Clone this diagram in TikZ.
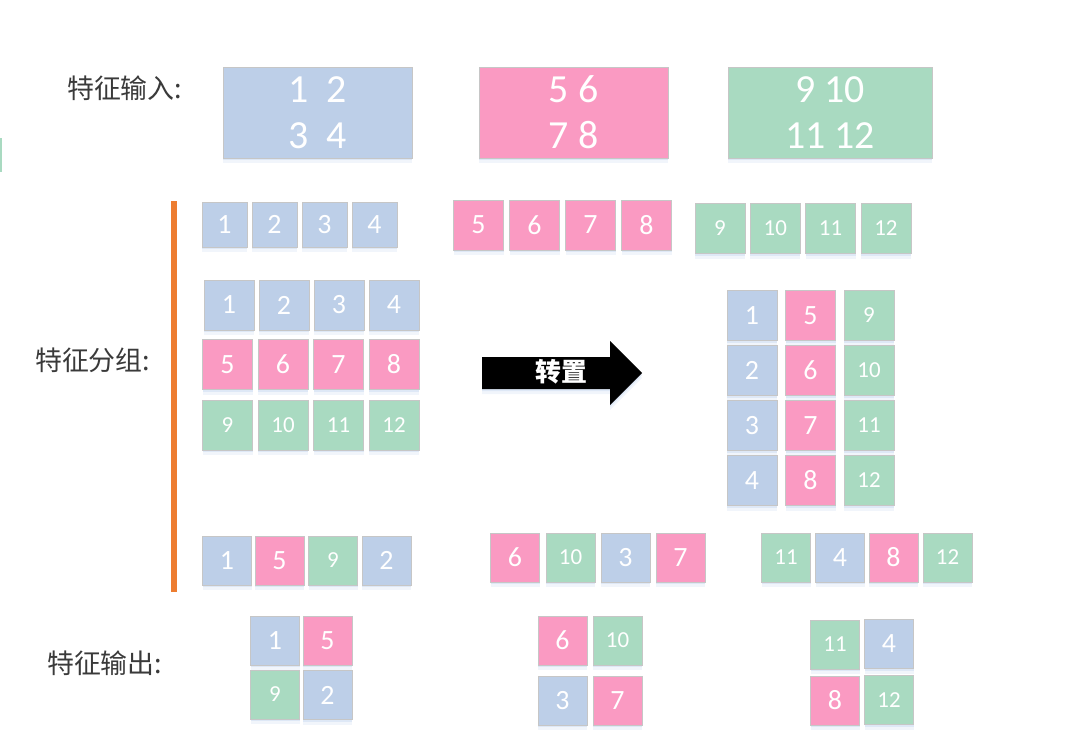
\documentclass[tikz,border=0pt]{standalone}
\usepackage{fontspec}
\setmainfont{Carlito}
\newfontfamily\cjk{Noto Sans CJK SC}
\usetikzlibrary{shadows}

\definecolor{cblue}{HTML}{BDCFE8}
\definecolor{cpink}{HTML}{FA9AC2}
\definecolor{cgreen}{HTML}{A9DAC1}
\definecolor{edge}{HTML}{C6C6C6}
\definecolor{bar}{HTML}{ED7D31}
\definecolor{shade}{HTML}{D6E2F4}
\definecolor{ink}{HTML}{3A3A3A}

\begin{document}
\begin{tikzpicture}[x=1bp, y=-1bp,
    soft/.style={general shadow={fill=shade, shadow yshift=-2bp, opacity=0.7},
                 general shadow={fill=shade, shadow yshift=-5bp, opacity=0.35}},
    cell/.style={soft, draw=edge, line width=0.8bp, text=white, inner sep=0pt,
                 minimum width=49bp, minimum height=49bp,
                 font=\fontsize{28}{30}\selectfont},
    bcell/.style={cell, fill=cblue},
    pcell/.style={cell, fill=cpink},
    gcell/.style={cell, fill=cgreen, font=\fontsize{23}{26}\selectfont},
    bigbox/.style={soft, draw=edge, line width=0.8bp, text=white, align=center,
                   minimum height=91bp, font=\fontsize{40}{46}\selectfont},
    label/.style={anchor=west, text=ink, inner sep=0pt, font=\cjk\fontsize{27}{30}\selectfont}]
      \useasboundingbox (0,0) rectangle (1078,754);
      \fill[cgreen] (0,138) rectangle (2,172);

      % input
      \node[label] (lin) at (67,88) {特征输入:};
      \node[bigbox, fill=cblue, minimum width=189bp] (inA) at (317.5,112.5) {1\ \ 2\\3\ \ 4};
      \node[bigbox, fill=cpink, minimum width=189bp] (inB) at (573.5,112.5) {5 6\\7 8};
      \node[bigbox, fill=cgreen, minimum width=204bp] (inC) at (830,112.5) {9 10\\11 12};

      % grouping
      \node[label] (lgrp) at (35,360) {特征分组:};
      \fill[bar] (171,201) rectangle (177,592);
      \foreach \n [count=\i] in {1,2,3,4}
        \node[bcell, minimum width=45bp, minimum height=45bp] (ra\n) at ({224.5+50*(\i-1)},224.5) {\n};
      \foreach \n [count=\i] in {5,6,7,8}
        \node[pcell, minimum width=50bp, minimum height=50bp] (ra\n) at ({478.5+56*(\i-1)},225) {\n};
      \foreach \n [count=\i] in {9,10,11,12}
        \node[gcell, minimum width=50bp, minimum height=50bp] (ra\n) at ({720+55.3*(\i-1)},228.5) {\n};

      \foreach \n [count=\i] in {1,2,3,4}
        \node[bcell, minimum width=50bp, minimum height=50bp] (g\n) at ({229+55*(\i-1)},305) {\n};
      \foreach \n [count=\i] in {5,6,7,8}
        \node[pcell, minimum width=50bp, minimum height=50bp] (g\n) at ({227.5+55.5*(\i-1)},364.5) {\n};
      \foreach \n [count=\i] in {9,10,11,12}
        \node[gcell, minimum width=50bp, minimum height=50bp] (g\n) at ({227.5+55.5*(\i-1)},425) {\n};

      % transpose
      \fill[black, soft] (482,357) -- (610,357) -- (610,341) -- (642,373)
          -- (610,405) -- (610,389) -- (482,389) -- cycle;
      \node[text=white, font=\cjk\bfseries\fontsize{26}{28}\selectfont] (turn) at (561.5,372) {转置};
      \foreach \n [count=\j] in {1,2,3,4}
        \node[bcell, minimum width=50bp, minimum height=50bp] (t\n) at (752,{315.5+55*(\j-1)}) {\n};
      \foreach \n [count=\j] in {5,6,7,8}
        \node[pcell, minimum width=50bp, minimum height=50bp] (t\n) at (810.5,{315.5+55*(\j-1)}) {\n};
      \foreach \n [count=\j] in {9,10,11,12}
        \node[gcell, minimum width=50bp, minimum height=50bp] (t\n) at (869,{315.5+55*(\j-1)}) {\n};

      % shuffled rows
      \node[bcell] (sa1) at (227,560.5) {1};
      \node[pcell] (sa2) at (279.5,560.5) {5};
      \node[gcell] (sa3) at (333,560.5) {9};
      \node[bcell] (sa4) at (386.5,560.5) {2};

      \node[pcell] (sb1) at (515,557.5) {6};
      \node[gcell] (sb2) at (570.5,557.5) {10};
      \node[bcell] (sb3) at (625.5,557.5) {3};
      \node[pcell] (sb4) at (680.5,557.5) {7};

      \node[gcell] (sc1) at (786,557.5) {11};
      \node[bcell] (sc2) at (840,557.5) {4};
      \node[pcell] (sc3) at (893.5,557.5) {8};
      \node[gcell] (sc4) at (947.5,557.5) {12};

      % output
      \node[label] (lout) at (47,663) {特征输出:};
      \node[bcell] (oa1) at (275,640.5) {1};
      \node[pcell] (oa2) at (327.5,640.5) {5};
      \node[gcell] (oa3) at (275,694.5) {9};
      \node[bcell] (oa4) at (327.5,695) {2};

      \node[pcell] (ob1) at (562.5,640.5) {6};
      \node[gcell] (ob2) at (617.5,640.5) {10};
      \node[bcell] (ob3) at (562.5,700.5) {3};
      \node[pcell] (ob4) at (617.5,700.5) {7};

      \node[gcell] (oc1) at (835,644.5) {11};
      \node[bcell] (oc2) at (889,644) {4};
      \node[pcell] (oc3) at (835,700.5) {8};
      \node[gcell] (oc4) at (889,700) {12};
\end{tikzpicture}
\end{document}
